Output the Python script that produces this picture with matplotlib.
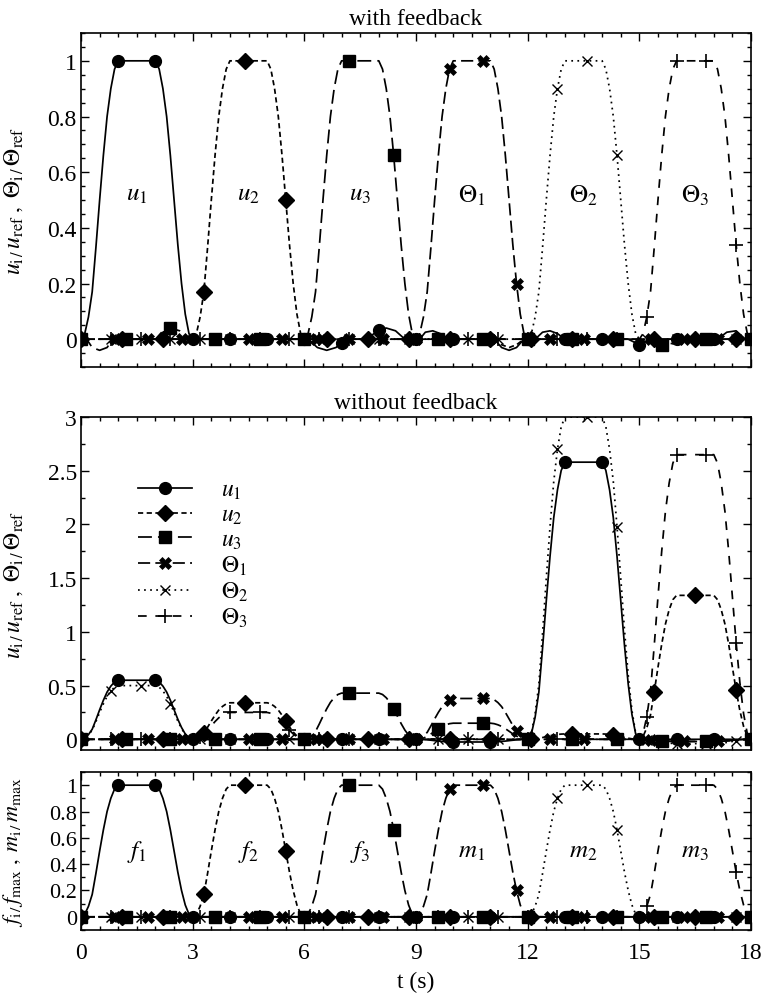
import numpy as np
import matplotlib
matplotlib.use("Agg")
import matplotlib.pyplot as plt
from matplotlib.lines import Line2D
from matplotlib.ticker import MultipleLocator, FuncFormatter

plt.rcParams['font.family'] = ['Liberation Serif', 'DejaVu Serif']
plt.rcParams['mathtext.fontset'] = 'stix'
plt.rcParams['font.size'] = 17

# shape of one pulse (time inside a 3 s slot, value / plateau height)
ramp_t = [0.0, 0.1, 0.2, 0.3, 0.4, 0.5, 0.6, 0.7, 0.8, 0.9, 1.0,
          2.0, 2.1, 2.2, 2.3, 2.4, 2.5, 2.6, 2.7, 2.8, 2.9, 3.0]
ramp_v = [0.0, 0.02, 0.08, 0.17, 0.33, 0.5, 0.66, 0.8, 0.9, 0.97, 1.0,
          1.0, 0.97, 0.9, 0.8, 0.66, 0.5, 0.34, 0.2, 0.09, 0.02, 0.0]

names = [r'$u_1$', r'$u_2$', r'$u_3$', r'$\Theta_1$', r'$\Theta_2$', r'$\Theta_3$']
ref_names = [r'$f_1$', r'$f_2$', r'$f_3$', r'$m_1$', r'$m_2$', r'$m_3$']
slot_start = [0, 3, 6, 9, 12, 15]

# with feedback: every output follows its own unit pulse, plus small coupling wiggles
fb_height = [1.0, 1.0, 1.0, 1.0, 1.0, 1.0]
fb_u1_wig_t = [6.1, 6.35, 6.6, 6.85, 7.1, 7.7, 7.95, 8.2, 8.45, 8.7, 9.1, 9.25, 9.45, 9.65, 9.8,
               11.1, 11.3, 11.5, 11.7, 11.9, 12.2, 12.4, 12.6, 12.8, 13.0,
               14.7, 15.0, 15.3, 17.1, 17.35, 17.6, 17.85]
fb_u1_wig_v = [0.0, -0.03, -0.04, -0.03, 0.0, 0.0, 0.03, 0.04, 0.03, 0.0, 0.0, 0.025, 0.03, 0.02, 0.0,
               0.0, -0.03, -0.04, -0.03, 0.0, 0.0, 0.025, 0.03, 0.02, 0.0,
               0.0, -0.02, 0.0, 0.0, 0.025, 0.03, 0.0]
fb_u2_wig_t = [11.1, 11.3, 11.5, 11.7, 11.9]
fb_u2_wig_v = [0.0, -0.02, -0.03, -0.02, 0.0]
fb_u3_wig_t = [0.15, 0.3, 0.5, 0.7, 0.85, 2.0, 2.2, 2.4, 2.65, 2.9, 15.0, 15.3, 15.6, 15.9, 16.2]
fb_u3_wig_v = [0.0, -0.03, -0.04, -0.03, 0.0, 0.0, 0.03, 0.04, 0.03, 0.0, 0.0, -0.015, -0.02, -0.015, 0.0]

# without feedback: (slot start, plateau) per output
nofb_u1 = [(0, 0.55), (9, -0.025), (12, 2.58)]
nofb_u2 = [(3, 0.34), (12, 0.05), (15, 1.34)]
nofb_u3 = [(6, 0.43), (9, 0.15), (15, -0.02)]
nofb_th1 = [(9, 0.38), (15, -0.02)]
nofb_th2 = [(0, 0.5), (12, 3.0), (15, -0.04)]
nofb_th3 = [(3, 0.25), (15, 2.65)]

# force / moment references
ref_height = [1.0, 1.0, 1.0, 1.0, 1.0, 1.0]

# marker spacing of each series (s)
mark_step = [1.0, 1.1, 1.2, 0.9, 0.8, 0.8]

line_styles = ['-', (0, (3, 2)), (0, (8, 3.5)), (0, (7, 3)), (0, (1, 2.5)), (0, (5, 5))]
markers = ['o', 'D', 's', 'X', 'x', '+']
msizes = [8.5, 8, 8, 9, 7.5, 10]
mews = [1, 1, 1, 0.5, 1.0, 1.2]
LW = 1.25


def curve(pulses, wig_t=(), wig_v=()):
    pts = [(0.0, 0.0), (18.0, 0.0)]
    for s, h in pulses:
        pts += [(s + rt, h * rv) for rt, rv in zip(ramp_t, ramp_v)]
    pts += list(zip(wig_t, wig_v))
    pts.sort(key=lambda p: p[0])
    t = np.array([p[0] for p in pts])
    v = np.array([p[1] for p in pts])
    return t, v


fb_wigs = [(fb_u1_wig_t, fb_u1_wig_v), (fb_u2_wig_t, fb_u2_wig_v),
           (fb_u3_wig_t, fb_u3_wig_v), ((), ()), ((), ()), ((), ())]
fb_curves = [curve([(s, h)], *w) for s, h, w in zip(slot_start, fb_height, fb_wigs)]
nofb_curves = [curve(p) for p in [nofb_u1, nofb_u2, nofb_u3, nofb_th1, nofb_th2, nofb_th3]]
ref_curves = [curve([(s, h)]) for s, h in zip(slot_start, ref_height)]


def draw(ax, curves):
    for i, (t, v) in enumerate(curves):
        ax.plot(t, v, color='k', lw=LW, linestyle=line_styles[i], zorder=2)
        mt = np.arange(0, 18.001, mark_step[i])
        ax.plot(mt, np.interp(mt, t, v), linestyle='none', marker=markers[i],
                ms=msizes[i], mew=mews[i], color='k', zorder=3)


def style(ax, ymin, ymax, major, minor):
    ax.set_xlim(0, 18)
    ax.set_ylim(ymin, ymax)
    ax.xaxis.set_major_locator(MultipleLocator(3))
    ax.xaxis.set_minor_locator(MultipleLocator(0.5))
    ax.yaxis.set_major_locator(MultipleLocator(major))
    ax.yaxis.set_minor_locator(MultipleLocator(minor))
    ax.yaxis.set_major_formatter(FuncFormatter(lambda x, _: f'{x:g}'))
    ax.xaxis.set_major_formatter(FuncFormatter(lambda x, _: f'{x:g}'))
    ax.tick_params(which='both', direction='in', top=True, right=True, width=1.0)
    ax.tick_params(which='major', length=6)
    ax.tick_params(which='minor', length=3)
    ax.tick_params(axis='y', pad=3)
    ax.tick_params(axis='x', pad=9)
    for sp in ax.spines.values():
        sp.set_linewidth(1.2)


fig = plt.figure(figsize=(7.63, 10.03), dpi=100)
ax1 = fig.add_axes([0.1062, 0.6331, 0.8781, 0.3330])
ax2 = fig.add_axes([0.1062, 0.2512, 0.8781, 0.3320])
ax3 = fig.add_axes([0.1062, 0.0718, 0.8781, 0.1575])

draw(ax1, fb_curves)
style(ax1, -0.1, 1.1, 0.2, 0.05)
ax1.set_title('with feedback', pad=6.5, fontsize=17)
ax1.tick_params(labelbottom=False)
for s, n in zip(slot_start, names):
    ax1.text(s + 1.5, 0.52, n, ha='center', va='center', fontsize=18)
ax1.set_ylabel(r'$u_{\mathrm{i\,/}}\,u_{\mathrm{ref}}\;,\;\Theta_{\mathrm{i\,/}}\,\Theta_{\mathrm{ref}}$',
               fontsize=17)
ax1.yaxis.set_label_coords(-0.084, 0.5)

draw(ax2, nofb_curves)
style(ax2, -0.1, 3.0, 0.5, 0.25)
ax2.set_title('without feedback', pad=6.5, fontsize=17)
ax2.tick_params(labelbottom=False)
ax2.set_ylabel(r'$u_{\mathrm{i\,/}}\,u_{\mathrm{ref}}\;,\;\Theta_{\mathrm{i\,/}}\,\Theta_{\mathrm{ref}}$',
               fontsize=17)
ax2.yaxis.set_label_coords(-0.084, 0.5)
handles = [Line2D([], [], color='k', lw=LW, linestyle=line_styles[i], marker=markers[i],
                  ms=msizes[i], mew=mews[i]) for i in range(6)]
ax2.legend(handles, names, loc='upper left', bbox_to_anchor=(0.085, 0.812), frameon=False,
           handlelength=2.3, handletextpad=1.2, labelspacing=0.12, borderpad=0,
           borderaxespad=0, fontsize=17, numpoints=1)

draw(ax3, ref_curves)
style(ax3, -0.1, 1.1, 0.2, 0.1)
ax3.tick_params(axis='y', labelsize=16)
for s, n in zip(slot_start, ref_names):
    ax3.text(s + 1.5, 0.5, n, ha='center', va='center', fontsize=18)
ax3.set_ylabel(r'$f_{\mathrm{i\,/}}\,f_{\max}\;,\;m_{\mathrm{i\,/}}\,m_{\max}$', fontsize=16)
ax3.yaxis.set_label_coords(-0.084, 0.5)
ax3.set_xlabel('t (s)', fontsize=17, labelpad=5)

fig.savefig('out.png', dpi=100)
